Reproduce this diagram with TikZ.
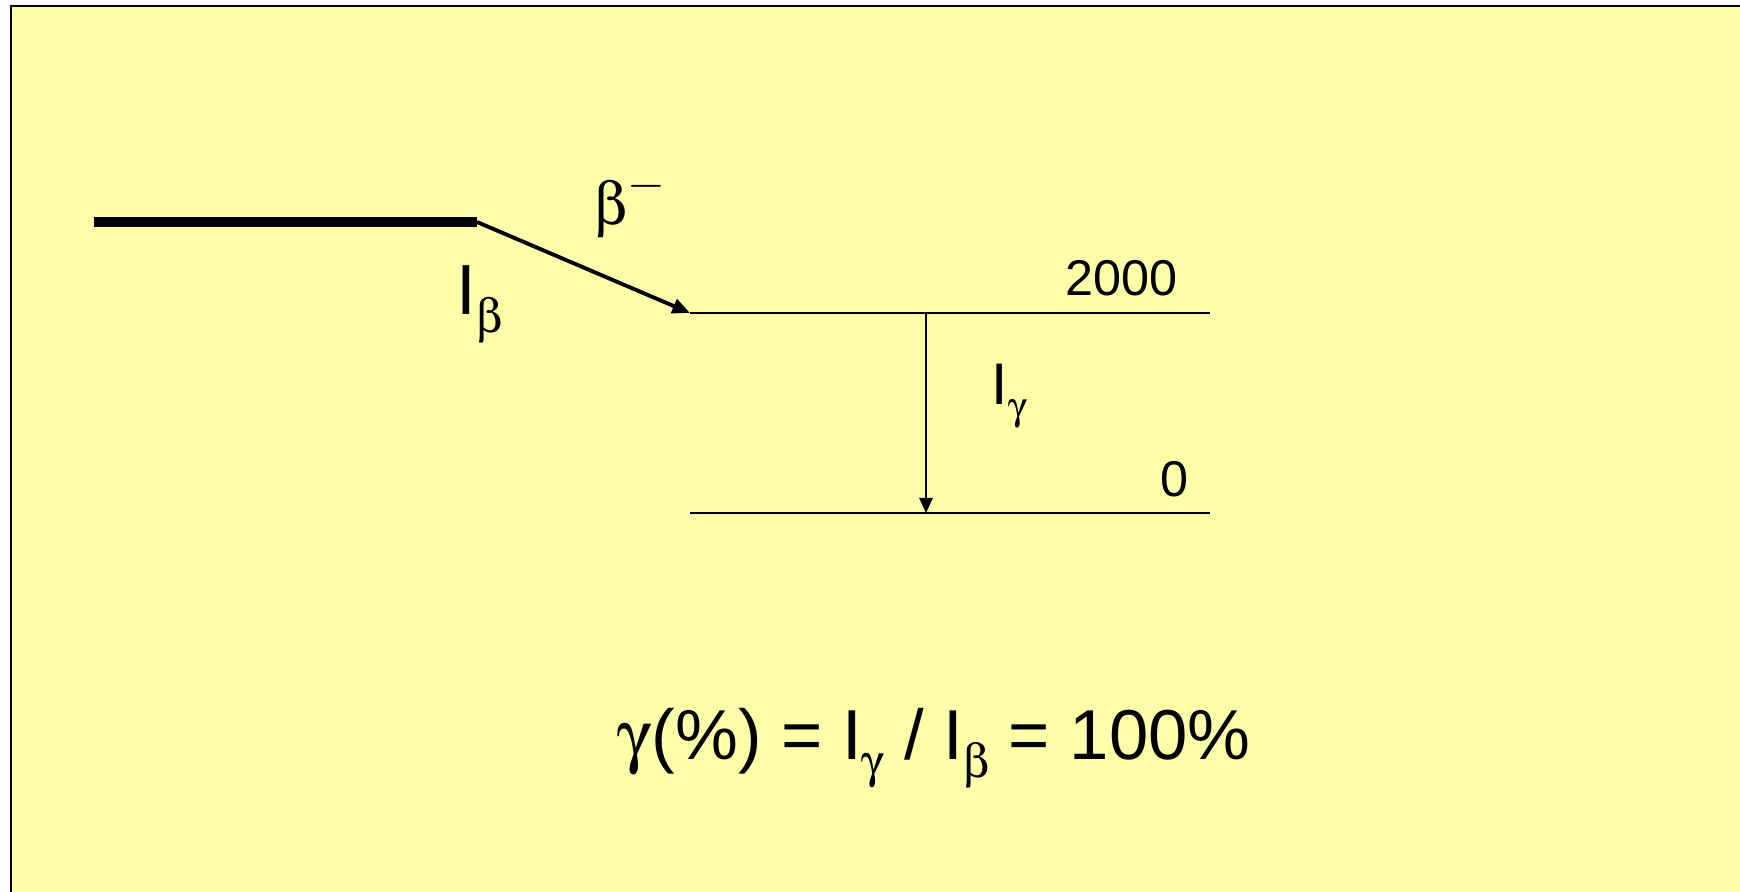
\documentclass[tikz,border=0pt]{standalone}
\usepackage[Symbol]{upgreek}
\usepackage{fontspec}
\setmainfont{Liberation Sans}
\usetikzlibrary{arrows.meta}
\definecolor{slideyellow}{HTML}{FFFFAA}
\newcommand\lowsub[1]{\raisebox{-.25em}{\scalebox{.67}{$#1$}}}
\begin{document}
\begin{tikzpicture}[x=0.01cm,y=-0.01cm,
    parentlevel/.style={line width=3.1pt},
    level/.style={line width=0.6pt},
    betaarrow/.style={line width=1.1pt,-{Triangle[length=5pt,width=4.2pt]}},
    gammaarrow/.style={line width=0.6pt,-{Triangle[length=4.3pt,width=3.8pt]}}]
    \useasboundingbox (0,0) rectangle (1740,892);
    \fill [slideyellow] (11,6) rectangle (1740,892);
    \draw [line width=0.7pt] (11,892) -- (11,6) -- (1740,6);
    % levels
    \coordinate (p0) at (94,222);
    \coordinate (p1) at (477,222);
    \coordinate (e2000w) at (690,313);
    \coordinate (e2000e) at (1210,313);
    \coordinate (e0w) at (690,513);
    \coordinate (e0e) at (1210,513);
    \coordinate (g0) at (926,313);
    \coordinate (g1) at (926,513);
    \draw [parentlevel] (p0) -- (p1);
    \draw [level] (e2000w) -- (e2000e);
    \draw [level] (e0w) -- (e0e);
    \draw [betaarrow] (p1) -- (e2000w);
    \draw [gammaarrow] (g0) -- (g1);
    % labels
    \node [anchor=base east,inner sep=0pt,font=\fontsize{14.3}{17}\selectfont] (lbl2000) at (1178,296) {2000};
    \node [anchor=base east,inner sep=0pt,font=\fontsize{14.3}{17}\selectfont] (lbl0) at (1189,497) {0};
    \node [anchor=base west,inner sep=0pt,font=\fontsize{17}{20}\selectfont] (betaminus) at (594,225) {$\upbeta$\raisebox{.45em}{\scalebox{.8}{$-$}}};
    \node [anchor=base west,inner sep=0pt,font=\fontsize{20.2}{24}\selectfont] (ibeta) at (456,315) {I\lowsub{\upbeta}};
    \node [anchor=base west,inner sep=0pt,font=\fontsize{16.7}{20}\selectfont] (igamma) at (991,405) {I\lowsub{\upgamma}};
    \node [anchor=base,inner sep=0pt,font=\fontsize{20.1}{25}\selectfont] (ratio) at (934,760) {$\upgamma$(\%) = I\lowsub{\upgamma} / I\lowsub{\upbeta} = 100\%};
\end{tikzpicture}
\end{document}
